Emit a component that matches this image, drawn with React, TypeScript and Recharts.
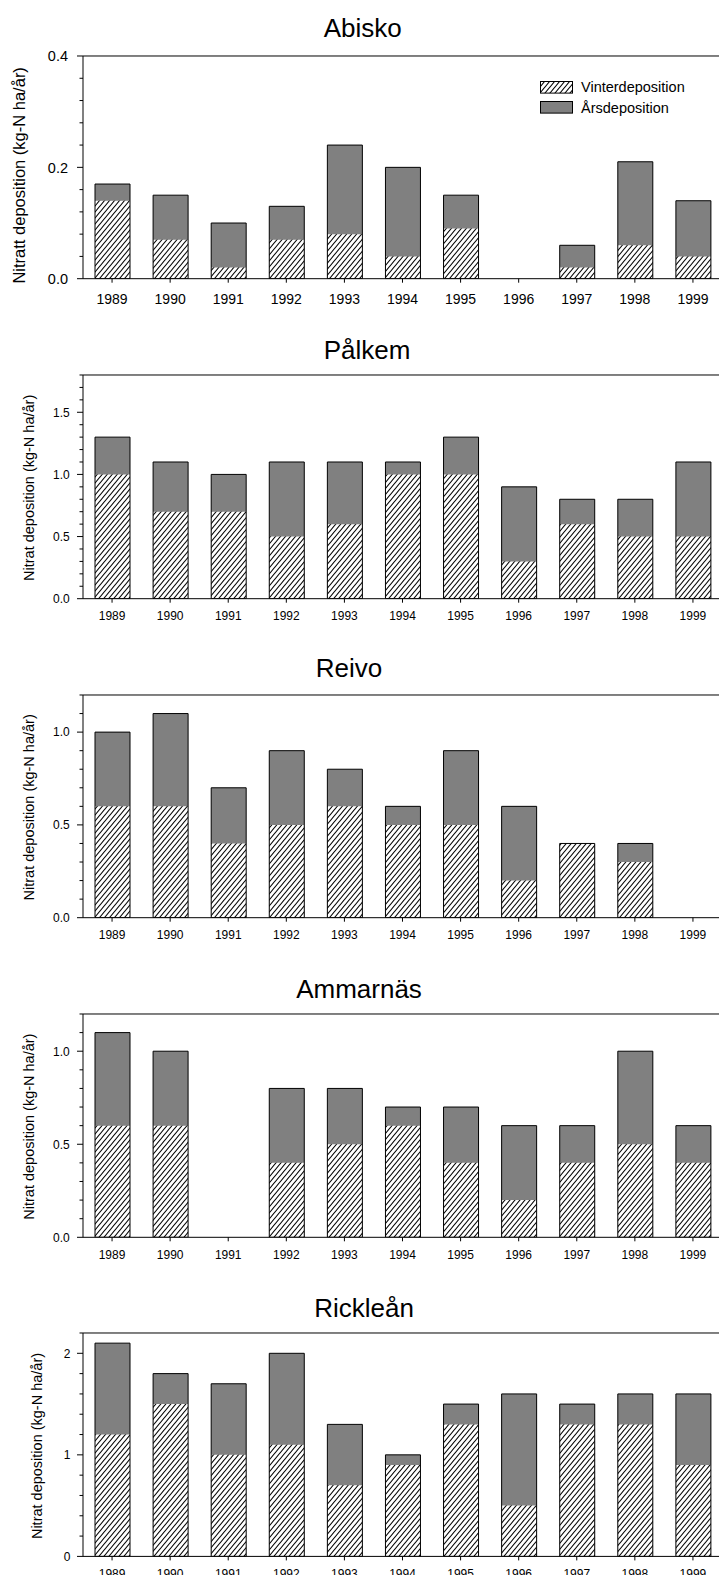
import React from 'react';
import { BarChart, Bar, XAxis, YAxis, ReferenceLine, Legend } from 'recharts';

const years = ['1989', '1990', '1991', '1992', '1993', '1994', '1995', '1996', '1997', '1998', '1999'];

// Vinterdeposition (hatched) and Årsdeposition (grey, total) per station
const abiskoWinter = [0.14, 0.07, 0.02, 0.07, 0.08, 0.04, 0.09, null, 0.02, 0.06, 0.04];
const abiskoTotal = [0.17, 0.15, 0.1, 0.13, 0.24, 0.2, 0.15, null, 0.06, 0.21, 0.14];
const palkemWinter = [1.0, 0.7, 0.7, 0.5, 0.6, 1.0, 1.0, 0.3, 0.6, 0.5, 0.5];
const palkemTotal = [1.3, 1.1, 1.0, 1.1, 1.1, 1.1, 1.3, 0.9, 0.8, 0.8, 1.1];
const reivoWinter = [0.6, 0.6, 0.4, 0.5, 0.6, 0.5, 0.5, 0.2, 0.4, 0.3, null];
const reivoTotal = [1.0, 1.1, 0.7, 0.9, 0.8, 0.6, 0.9, 0.6, 0.4, 0.4, null];
const ammarnasWinter = [0.6, 0.6, null, 0.4, 0.5, 0.6, 0.4, 0.2, 0.4, 0.5, 0.4];
const ammarnasTotal = [1.1, 1.0, null, 0.8, 0.8, 0.7, 0.7, 0.6, 0.6, 1.0, 0.6];
const rickleanWinter = [1.2, 1.5, 1.0, 1.1, 0.7, 0.9, 1.3, 0.5, 1.3, 1.3, 0.9];
const rickleanTotal = [2.1, 1.8, 1.7, 2.0, 1.3, 1.0, 1.5, 1.6, 1.5, 1.6, 1.6];

const abiskoTicks = [0, 0.04, 0.08, 0.12, 0.16, 0.2, 0.24, 0.28, 0.32, 0.36, 0.4];
const abiskoMajor = [0, 0.2, 0.4];
const palkemTicks = [0, 0.1, 0.2, 0.3, 0.4, 0.5, 0.6, 0.7, 0.8, 0.9, 1.0, 1.1, 1.2, 1.3, 1.4, 1.5, 1.6, 1.7, 1.8];
const palkemMajor = [0, 0.5, 1.0, 1.5];
const reivoTicks = [0, 0.1, 0.2, 0.3, 0.4, 0.5, 0.6, 0.7, 0.8, 0.9, 1.0, 1.1, 1.2];
const reivoMajor = [0, 0.5, 1.0];
const rickleanTicks = [0, 0.2, 0.4, 0.6, 0.8, 1.0, 1.2, 1.4, 1.6, 1.8, 2.0, 2.2];
const rickleanMajor = [0, 1, 2];

const legendItems = ['Vinterdeposition', 'Årsdeposition'];

const FONT = '"Liberation Sans", Arial, Helvetica, sans-serif';
const GREY = '#808080';
const INK = '#000';
const BAR = 35;
const MT = 12;
const XH = 40;

const panels = [
  {
    title: 'Abisko', winter: abiskoWinter, total: abiskoTotal, max: 0.4, ticks: abiskoTicks, major: abiskoMajor, digits: 1,
    top: 56, bottom: 278.7, titleX: 362.7, titleY: 37.3,
    yLabel: 'Nitratt deposition (kg-N ha/år)', yLabelX: 25, yLabelSize: 16.5,
    tickFont: 14.5, tickGap: 15, xFont: 14, xBase: 25.3, legend: true,
  },
  {
    title: 'Pålkem', winter: palkemWinter, total: palkemTotal, max: 1.8, ticks: palkemTicks, major: palkemMajor, digits: 1,
    top: 375, bottom: 598.7, titleX: 367, titleY: 359,
    yLabel: 'Nitrat deposition (kg-N ha/år)', yLabelX: 34, yLabelSize: 14.5,
    tickFont: 12, tickGap: 13.3, xFont: 12, xBase: 21.8, legend: false,
  },
  {
    title: 'Reivo', winter: reivoWinter, total: reivoTotal, max: 1.2, ticks: reivoTicks, major: reivoMajor, digits: 1,
    top: 695, bottom: 917.7, titleX: 349, titleY: 677,
    yLabel: 'Nitrat deposition (kg-N ha/år)', yLabelX: 34, yLabelSize: 14.5,
    tickFont: 12, tickGap: 13.3, xFont: 12, xBase: 21.8, legend: false,
  },
  {
    title: 'Ammarnäs', winter: ammarnasWinter, total: ammarnasTotal, max: 1.2, ticks: reivoTicks, major: reivoMajor, digits: 1,
    top: 1014, bottom: 1237.3, titleX: 359, titleY: 998.3,
    yLabel: 'Nitrat deposition (kg-N ha/år)', yLabelX: 34, yLabelSize: 14.5,
    tickFont: 12, tickGap: 13.3, xFont: 12, xBase: 21.8, legend: false,
  },
  {
    title: 'Rickleån', winter: rickleanWinter, total: rickleanTotal, max: 2.2, ticks: rickleanTicks, major: rickleanMajor, digits: 0,
    top: 1333.3, bottom: 1556.7, titleX: 364, titleY: 1316.7,
    yLabel: 'Nitrat deposition (kg-N ha/år)', yLabelX: 42, yLabelSize: 14.5,
    tickFont: 12, tickGap: 12.6, xFont: 12, xBase: 21.8, legend: false,
  },
];

const YTick = (props: any) => {
  const { x, y, payload, major, digits, fontSize, gap } = props;
  const isMajor = major.some((m: number) => Math.abs(m - payload.value) < 1e-9);
  return (
    <g>
      <line x1={x - (isMajor ? 6 : 3.5)} x2={x} y1={y} y2={y} stroke={INK} strokeWidth={1} />
      {isMajor && (
        <text x={x - gap} y={y} dy="0.36em" textAnchor="end" fontSize={fontSize} fontFamily={FONT} fill={INK}>
          {Number(payload.value).toFixed(digits)}
        </text>
      )}
    </g>
  );
};

const XTick = (props: any) => {
  const { x, y, payload, fontSize, base } = props;
  return (
    <text x={x} y={y - 4 + base} textAnchor="middle" fontSize={fontSize} fontFamily={FONT} fill={INK}>
      {payload.value}
    </text>
  );
};

const LegendBox = () => (
  <div style={{ fontFamily: FONT, fontSize: 14.5, color: INK }}>
    {legendItems.map((label, i) => (
      <div key={label} style={{ display: 'flex', alignItems: 'center', height: 20.2, whiteSpace: 'nowrap' }}>
        <svg width={34} height={13} style={{ display: 'block' }}>
          <rect x={0.5} y={0.5} width={32} height={11.6} fill={i === 0 ? 'url(#hatch)' : GREY} stroke={INK} strokeWidth={1} />
        </svg>
        <span style={{ marginLeft: 7 }}>{label}</span>
      </div>
    ))}
  </div>
);

const Panel = ({ p }: { p: any }) => {
  const data = years.map((year, i) => ({ year, winter: p.winter[i], total: p.total[i] }));
  const plotH = p.bottom - p.top;
  return (
    <div style={{ position: 'absolute', left: 0, top: p.top - MT }}>
      <BarChart
        width={722}
        height={MT + plotH + XH}
        data={data}
        margin={{ top: MT, right: 0, bottom: 0, left: 0 }}
        barGap={-BAR}
      >
        <XAxis
          dataKey="year"
          height={XH}
          interval={0}
          tickSize={4}
          tickMargin={0}
          axisLine={{ stroke: INK }}
          tickLine={{ stroke: INK }}
          tick={<XTick fontSize={p.xFont} base={p.xBase} />}
        />
        <YAxis
          type="number"
          width={83}
          domain={[0, p.max]}
          ticks={p.ticks}
          interval={0}
          tickSize={0}
          tickMargin={0}
          tickLine={false}
          axisLine={{ stroke: INK }}
          allowDataOverflow
          tick={<YTick major={p.major} digits={p.digits} fontSize={p.tickFont} gap={p.tickGap} />}
        />
        <ReferenceLine y={p.max} stroke={INK} strokeWidth={1} />
        <Bar dataKey="total" name="Årsdeposition" fill={GREY} barSize={BAR} isAnimationActive={false} />
        <Bar dataKey="winter" name="Vinterdeposition" fill="url(#hatch)" barSize={BAR} isAnimationActive={false} />
        <Bar dataKey="total" name="outline" fill="none" stroke={INK} strokeWidth={1} barSize={BAR} legendType="none" isAnimationActive={false} />
        {p.legend && (
          <Legend
            layout="horizontal"
            verticalAlign="middle"
            align="center"
            content={<LegendBox />}
            wrapperStyle={{ top: 87.5 - 10.1 - (p.top - MT), left: 540, width: 'auto' }}
          />
        )}
      </BarChart>
    </div>
  );
};

export default function App() {
  return (
    <div style={{ position: 'absolute', left: 0, top: 0, width: 719, height: 1575, overflow: 'hidden', background: '#fff' }}>
      {panels.map((p) => (
        <Panel key={p.title} p={p} />
      ))}
      <svg width={719} height={1575} style={{ position: 'absolute', left: 0, top: 0, pointerEvents: 'none' }}>
        <defs>
          <pattern id="hatch" patternUnits="userSpaceOnUse" width={5} height={6}>
            <rect x={0} y={0} width={5} height={6} fill="#fff" />
            <path d="M0,6 L5,0 M-1,1.2 L1,-1.2 M4,7.2 L6,4.8" stroke={INK} strokeWidth={1.1} />
          </pattern>
        </defs>
        {panels.map((p) => {
          const cy = (p.top + p.bottom) / 2 + (p.legend ? 8 : 1);
          return (
            <g key={p.title}>
              <text x={p.titleX} y={p.titleY} textAnchor="middle" fontSize={26} fontFamily={FONT} fill={INK}>
                {p.title}
              </text>
              <text
                x={p.yLabelX}
                y={cy}
                transform={`rotate(-90 ${p.yLabelX} ${cy})`}
                textAnchor="middle"
                fontSize={p.yLabelSize}
                fontFamily={FONT}
                fill={INK}
              >
                {p.yLabel}
              </text>
            </g>
          );
        })}
      </svg>
    </div>
  );
}
